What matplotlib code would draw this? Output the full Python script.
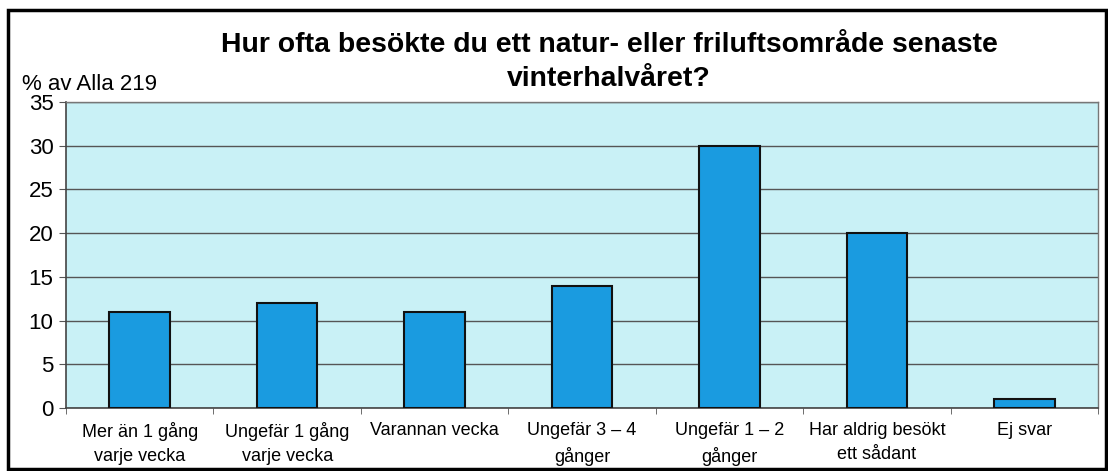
import matplotlib
matplotlib.use("Agg")
import matplotlib.pyplot as plt
from matplotlib.patches import Rectangle
import numpy as np

categories = ["Mer än 1 gång\nvarje vecka", "Ungefär 1 gång\nvarje vecka", "Varannan vecka",
              "Ungefär 3 – 4\ngånger", "Ungefär 1 – 2\ngånger", "Har aldrig besökt\nett sådant", "Ej svar"]
values = [11, 12, 11, 14, 30, 20, 1]
yticks = [0, 5, 10, 15, 20, 25, 30, 35]
title = "Hur ofta besökte du ett natur- eller friluftsområde senaste\nvinterhalvåret?"
ylabel = "% av Alla 219"

plt.rcParams['font.family'] = ['Liberation Sans', 'DejaVu Sans']

W, H = 1108, 471
fig = plt.figure(figsize=(W / 100, H / 100), dpi=100)
fig.patch.set_facecolor('white')

# outer frame
fig.patches.append(Rectangle((8 / W, 2 / H), (1106 - 8) / W, (461 - 2) / H, transform=fig.transFigure,
                             fill=False, edgecolor='black', linewidth=2.5))

ax = fig.add_axes([66 / W, (471 - 408) / H, (1098 - 66) / W, (408 - 102) / H])
ax.set_facecolor('#c9f1f6')
x = np.arange(len(categories))
ax.bar(x, values, width=0.41, color='#1a9be0', edgecolor='#111111', linewidth=1.5, zorder=3)
ax.set_xlim(-0.5, len(categories) - 0.5)
ax.set_ylim(0, 35)
ax.set_yticks(yticks)
ax.set_yticklabels([str(t) for t in yticks], fontsize=16)
ax.yaxis.grid(True, color='#555555', linewidth=1.0, zorder=1)
ax.set_xticks(x)
ax.set_xticklabels(categories, fontsize=13)
ax.set_xticks(np.arange(len(categories) + 1) - 0.5, minor=True)
ax.tick_params(axis='x', which='major', length=0, pad=10)
ax.tick_params(axis='x', which='minor', length=4, color='#555555')
ax.tick_params(axis='y', length=5, color='#555555', pad=4)
for lbl in ax.get_xticklabels():
    lbl.set_linespacing(1.55)
for s in ['left', 'bottom']:
    ax.spines[s].set_color('#444444')
    ax.spines[s].set_linewidth(1.2)
for s in ['top', 'right']:
    ax.spines[s].set_color('#777777')
    ax.spines[s].set_linewidth(1.0)

fig.text(609 / W, 1 - 62 / H, title, ha='center', va='center', fontsize=20.4, fontweight='bold',
         linespacing=1.45)
fig.text(22 / W, 1 - 84 / H, ylabel, ha='left', va='center', fontsize=16)

fig.savefig("out.png", dpi=100)
